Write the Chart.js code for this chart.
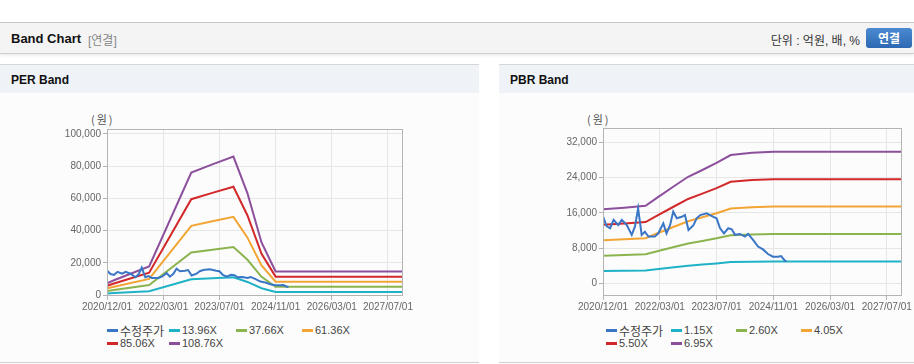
<!DOCTYPE html>
<html>
<head>
<meta charset="utf-8">
<script src="https://cdn.jsdelivr.net/npm/chart.js@4.4.1/dist/chart.umd.min.js"></script>
<style>
  body { margin: 0; width: 914px; height: 364px; background: #fff; position: relative; overflow: hidden;
         font-family: "Liberation Sans", Arial, "Noto Sans CJK KR", sans-serif; }
  .topbar { position: absolute; left: 0; top: 22px; width: 914px; height: 30px; background: #f4f4f4;
            border-top: 1px solid #c6c6c6; border-bottom: 1px solid #cfcfcf; box-shadow: 0 2px 3px rgba(0,0,0,0.07); }
  .topbar .title { position: absolute; left: 11px; top: 8px; font-size: 13px; font-weight: bold; color: #111; }
  .topbar .sub { position: absolute; left: 88px; top: 8px; font-size: 12px; color: #888; }
  .topbar .unit { position: absolute; right: 54px; top: 8px; font-size: 12px; color: #333; }
  .topbar .btn { position: absolute; left: 866px; top: 5px; width: 46px; height: 20px; border-radius: 3px;
                 background: linear-gradient(#4b8ad2, #2c69b2); color: #fff; font-size: 12px; font-weight: bold;
                 text-align: center; line-height: 20px; font-family: "Noto Sans CJK KR", sans-serif; }
  .panel { position: absolute; top: 64px; height: 298px; background: #fcfcfc; border-bottom: 1px solid #d0d0d0; }
  .panel .head { height: 28px; background: #eff3f7; border-top: 1px solid #d6d6d6; }
  .panel .head span { position: absolute; left: 11px; top: 9px; font-size: 12px; font-weight: bold; color: #111; }
  .unitlbl { position: absolute; top: 111px; font-size: 11px; color: #555; letter-spacing: 2px;
             font-family: "Noto Sans CJK KR", sans-serif; }
  .box { position: absolute; top: 110px; height: 210px; }
  .legend { position: absolute; top: 324px; display: grid; row-gap: 0; font-size: 11px; color: #444; }
  .legend div { height: 13px; line-height: 13px; white-space: nowrap; display: flex; align-items: center; }
  .legend i { display: inline-block; width: 11px; height: 3px; margin-right: 2px; }
  .legend .kr { font-size: 12px; font-family: "Noto Sans CJK KR", sans-serif; }
</style>
</head>
<body>
<div class="topbar">
  <span class="title">Band Chart</span><span class="sub">[연결]</span>
  <span class="unit">단위 : 억원, 배, %</span>
  <div class="btn">연결</div>
</div>

<div class="panel" style="left:0;width:479px"><div class="head"><span>PER Band</span></div></div>
<div class="panel" style="left:499px;width:415px"><div class="head"><span>PBR Band</span></div></div>

<div class="unitlbl" style="left:91px">(원)</div>
<div class="unitlbl" style="left:587px">(원)</div>

<div class="box" style="left:60px;width:372px"><canvas id="perChart"></canvas></div>
<div class="box" style="left:540px;width:374px"><canvas id="pbrChart"></canvas></div>

<div class="legend" id="perLegend" style="left:107px;grid-template-columns:62px 67px 66px 80px"></div>
<div class="legend" id="pbrLegend" style="left:606px;grid-template-columns:65px 65px 65px 80px"></div>

<script>
// x values are months counted from 2020/12/01
const xTickMonths = [0, 16, 32, 48, 64, 80];
const xTickLabels = ['2020/12/01', '2022/03/01', '2023/07/01', '2024/11/01', '2026/03/01', '2027/07/01'];

// 수정주가 (adjusted price)
const priceMonths = [0, 1, 2, 3, 4.3, 5.3, 6.7, 8.1, 9, 9.9, 10.9, 11.8, 12.8, 14.6, 15.6, 17, 17.9, 18.9, 19.8,
  20.8, 22.2, 23.1, 24.1, 25.5, 26.4, 27.4, 29.2, 30.2, 31.1, 32, 33, 34.1, 35.3, 36.3, 37.2, 38.6, 40, 40.9,
  42.3, 43.7, 45.1, 46.5, 47.9, 49.3, 50.2, 51.1, 51.7];
const prices = [15200, 13000, 12500, 14400, 13200, 14400, 13200, 11000, 12850, 17000, 11000, 11700, 10600, 10600,
  11350, 13600, 11350, 13200, 16300, 14750, 15100, 15500, 12100, 13200, 14750, 15500, 15900, 15500, 15100, 14750,
  12500, 11350, 12500, 12250, 11000, 11200, 10600, 11200, 9850, 8350, 7700, 6650, 6050, 6050, 6200, 5300, 4900];

// PER band
const perMonths = [0, 2, 12, 24, 30, 36, 40, 44, 48, 84];
const perLabels = ['13.96X', '37.66X', '61.36X', '85.06X', '108.76X'];
const per1396 = [935, 1173, 2275, 9758, 10400, 11028, 8097, 4188, 1871, 1871];
const per3766 = [2523, 3163, 6139, 26324, 28057, 29751, 21843, 11298, 5046, 5046];
const per6136 = [4111, 5154, 10002, 42891, 45713, 48474, 35589, 18408, 8222, 8222];
const per8506 = [5699, 7145, 13865, 59457, 63370, 67197, 49335, 25518, 11398, 11398];
const per10876 = [7287, 9136, 17728, 76023, 81026, 85920, 63081, 32628, 14574, 14574];
const perYTicks = [0, 20000, 40000, 60000, 80000, 100000];

// PBR band
const pbrMonths = [0, 6, 12, 15, 20, 24, 28, 32, 36, 42, 48, 84];
const pbrLabels = ['1.15X', '2.60X', '4.05X', '5.50X', '6.95X'];
const pbr115 = [2778, 2841, 2910, 3192, 3646, 4002, 4255, 4520, 4819, 4899, 4943, 4943];
const pbr260 = [6282, 6422, 6578, 7218, 8242, 9048, 9620, 10218, 10894, 11076, 11175, 11175];
const pbr405 = [9785, 10004, 10247, 11243, 12839, 14094, 14985, 15917, 16970, 17253, 17407, 17407];
const pbr550 = [13288, 13585, 13915, 15268, 17435, 19140, 20350, 21615, 23045, 23430, 23639, 23639];
const pbr695 = [16791, 17167, 17584, 19293, 22032, 24186, 25715, 27314, 29121, 29607, 29871, 29871];
const pbrYTicks = [0, 8000, 16000, 24000, 32000];

const colors = ['#3a76c6', '#1fb2c6', '#8cb44e', '#f2a535', '#d2282a', '#8c4f9c'];
const priceLabel = '수정주가';

function toPoints(xs, ys) {
  return ys.map((y, i) => ({ x: xs[i], y: y }));
}

const frame = {
  id: 'frame',
  afterDraw(chart) {
    const a = chart.chartArea, ctx = chart.ctx;
    ctx.save();
    ctx.strokeStyle = '#b4b4b4';
    ctx.lineWidth = 1;
    ctx.strokeRect(Math.round(a.left) + 0.5, Math.round(a.top) + 0.5, Math.round(a.right - a.left), Math.round(a.bottom - a.top));
    ctx.restore();
  }
};

function makeChart(id, bandMonths, bands, labels, yMin, yMax, yTicks, yWidth, pad) {
  const datasets = [{ label: priceLabel, data: toPoints(priceMonths, prices) }];
  bands.forEach((b, i) => datasets.push({ label: labels[i], data: toPoints(bandMonths, b) }));
  datasets.forEach((d, i) => {
    d.borderColor = colors[i];
    d.backgroundColor = colors[i];
    d.borderWidth = 2;
    d.pointRadius = 0;
    d.tension = 0;
  });
  // price drawn on top
  datasets[0].order = -1;

  const tickFont = { family: '"Liberation Sans", Arial', size: 10 };
  return new Chart(document.getElementById(id), {
    type: 'line',
    data: { datasets },
    options: {
      responsive: true,
      maintainAspectRatio: false,
      animation: false,
      layout: { padding: pad },
      plugins: { legend: { display: false }, tooltip: { enabled: false } },
      scales: {
        x: {
          type: 'linear', min: 0, max: 84,
          afterBuildTicks: s => { s.ticks = xTickMonths.map(v => ({ value: v })); },
          afterFit: s => { s.height = 25; },
          ticks: {
            autoSkip: false, maxRotation: 0, padding: 1, color: '#666', font: tickFont,
            callback: v => xTickLabels[xTickMonths.indexOf(v)]
          },
          grid: { color: '#e6e6e6', tickLength: 5, tickColor: '#b4b4b4' },
          border: { color: '#b4b4b4' }
        },
        y: {
          min: yMin, max: yMax,
          afterBuildTicks: s => { s.ticks = yTicks.map(v => ({ value: v })); },
          afterFit: s => { s.width = yWidth; },
          ticks: { padding: 2, color: '#666', font: tickFont, callback: v => v.toLocaleString('en-US') },
          grid: { color: '#e6e6e6', tickLength: 4, tickColor: '#b4b4b4' },
          border: { color: '#b4b4b4' }
        }
      }
    },
    plugins: [frame]
  });
}

function makeLegend(id, labels) {
  const el = document.getElementById(id);
  [priceLabel].concat(labels).forEach((t, i) => {
    const d = document.createElement('div');
    d.innerHTML = '<i style="background:' + colors[i] + '"></i><span' + (i === 0 ? ' class="kr"' : '') + '>' + t + '</span>';
    el.appendChild(d);
  });
}

makeChart('perChart', perMonths, [per1396, per3766, per6136, per8506, per10876], perLabels,
  0, 103000, perYTicks, 47, { top: 19, right: 30, left: 0, bottom: 0 });
makeChart('pbrChart', pbrMonths, [pbr115, pbr260, pbr405, pbr550, pbr695], pbrLabels,
  -2650, 35250, pbrYTicks, 63, { top: 18, right: 13, left: 0, bottom: 0 });

makeLegend('perLegend', perLabels);
makeLegend('pbrLegend', pbrLabels);
</script>
</body>
</html>
